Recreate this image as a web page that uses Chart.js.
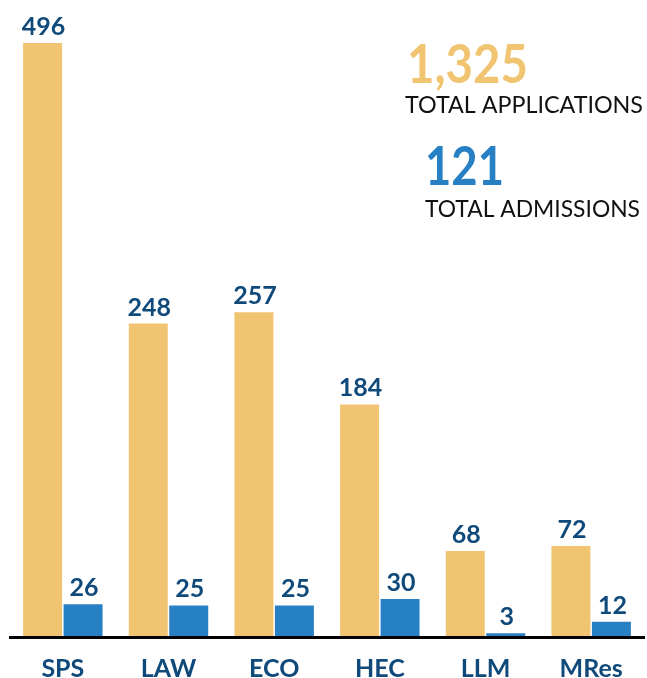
<!DOCTYPE html>
<html>
<head>
<meta charset="utf-8">
<script src="https://cdn.jsdelivr.net/npm/chart.js@4"></script>
<style>
  body { margin: 0; background: #fff; }
  #wrap { width: 647px; height: 678px; position: relative; }
</style>
</head>
<body>
<div id="wrap"><canvas id="admissionsChart"></canvas></div>
<script>
const categories = ['SPS', 'LAW', 'ECO', 'HEC', 'LLM', 'MRes'];
const applications = [496, 248, 257, 184, 68, 72];
const admissions = [26, 25, 25, 30, 3, 12];

const yellow = '#F0C471';
const blue = '#2880C4';
const darkBlue = '#0F4A7B';

// totals shown top right
const totalApplications = applications.reduce((a, b) => a + b, 0);
const totalAdmissions = admissions.reduce((a, b) => a + b, 0);

const ctx = document.getElementById('admissionsChart').getContext('2d');

// numbers above the bars
const valueLabels = {
    id: 'valueLabels',
    afterDatasetsDraw(chart) {
        const c = chart.ctx;
        const top = chart.chartArea.top;
        c.save();
        c.font = 'bold 25px Lato';
        c.fillStyle = darkBlue;
        c.textAlign = 'center';
        c.textBaseline = 'alphabetic';
        chart.data.datasets.forEach((ds, i) => {
            chart.getDatasetMeta(i).data.forEach((bar, j) => {
                const y = Math.max(bar.y, top);
                c.fillText(ds.data[j], bar.x + 1, y - 8);
            });
        });
        c.restore();
    }
};

const totals = {
    id: 'totals',
    afterDraw(chart) {
        const c = chart.ctx;
        c.save();
        c.textAlign = 'left';
        c.textBaseline = 'alphabetic';

        c.font = 'bold 53px Lato';
        c.fillStyle = yellow;
        c.fillText(totalApplications.toLocaleString('en-US'), 407, 83, 121);
        c.font = '24px Lato';
        c.fillStyle = '#111';
        c.fillText('TOTAL APPLICATIONS', 405, 113, 238);

        c.font = 'bold 53px Lato';
        c.fillStyle = blue;
        c.fillText(totalAdmissions, 425, 185, 79);
        c.font = '24px Lato';
        c.fillStyle = '#111';
        c.fillText('TOTAL ADMISSIONS', 425, 217, 215);
        c.restore();
    }
};

const admissionsChart = new Chart(ctx, {
    type: 'bar',
    data: {
        labels: categories,
        datasets: [
            {
                label: 'Applications',
                data: applications,
                backgroundColor: yellow,
                categoryPercentage: 0.766,
                barPercentage: 0.963,
                clip: 0
            },
            {
                label: 'Admissions',
                data: admissions,
                backgroundColor: blue,
                categoryPercentage: 0.766,
                barPercentage: 0.963,
                clip: 0
            }
        ]
    },
    options: {
        responsive: true,
        maintainAspectRatio: false,
        animation: false,
        layout: {
            padding: { left: 10, right: 3, top: 43, bottom: 0 }
        },
        plugins: {
            legend: { display: false },
            tooltip: { enabled: false }
        },
        scales: {
            x: {
                grid: { display: false, drawTicks: false },
                border: { display: true, color: '#000', width: 3, z: 1 },
                ticks: {
                    color: darkBlue,
                    padding: 19,
                    font: { family: 'Lato', weight: 'bold', size: 25, lineHeight: 1 }
                },
                afterFit(scale) {
                    scale.height = 41;
                }
            },
            y: {
                display: false,
                min: 0,
                max: 470
            }
        }
    },
    plugins: [valueLabels, totals]
});
</script>
</body>
</html>
